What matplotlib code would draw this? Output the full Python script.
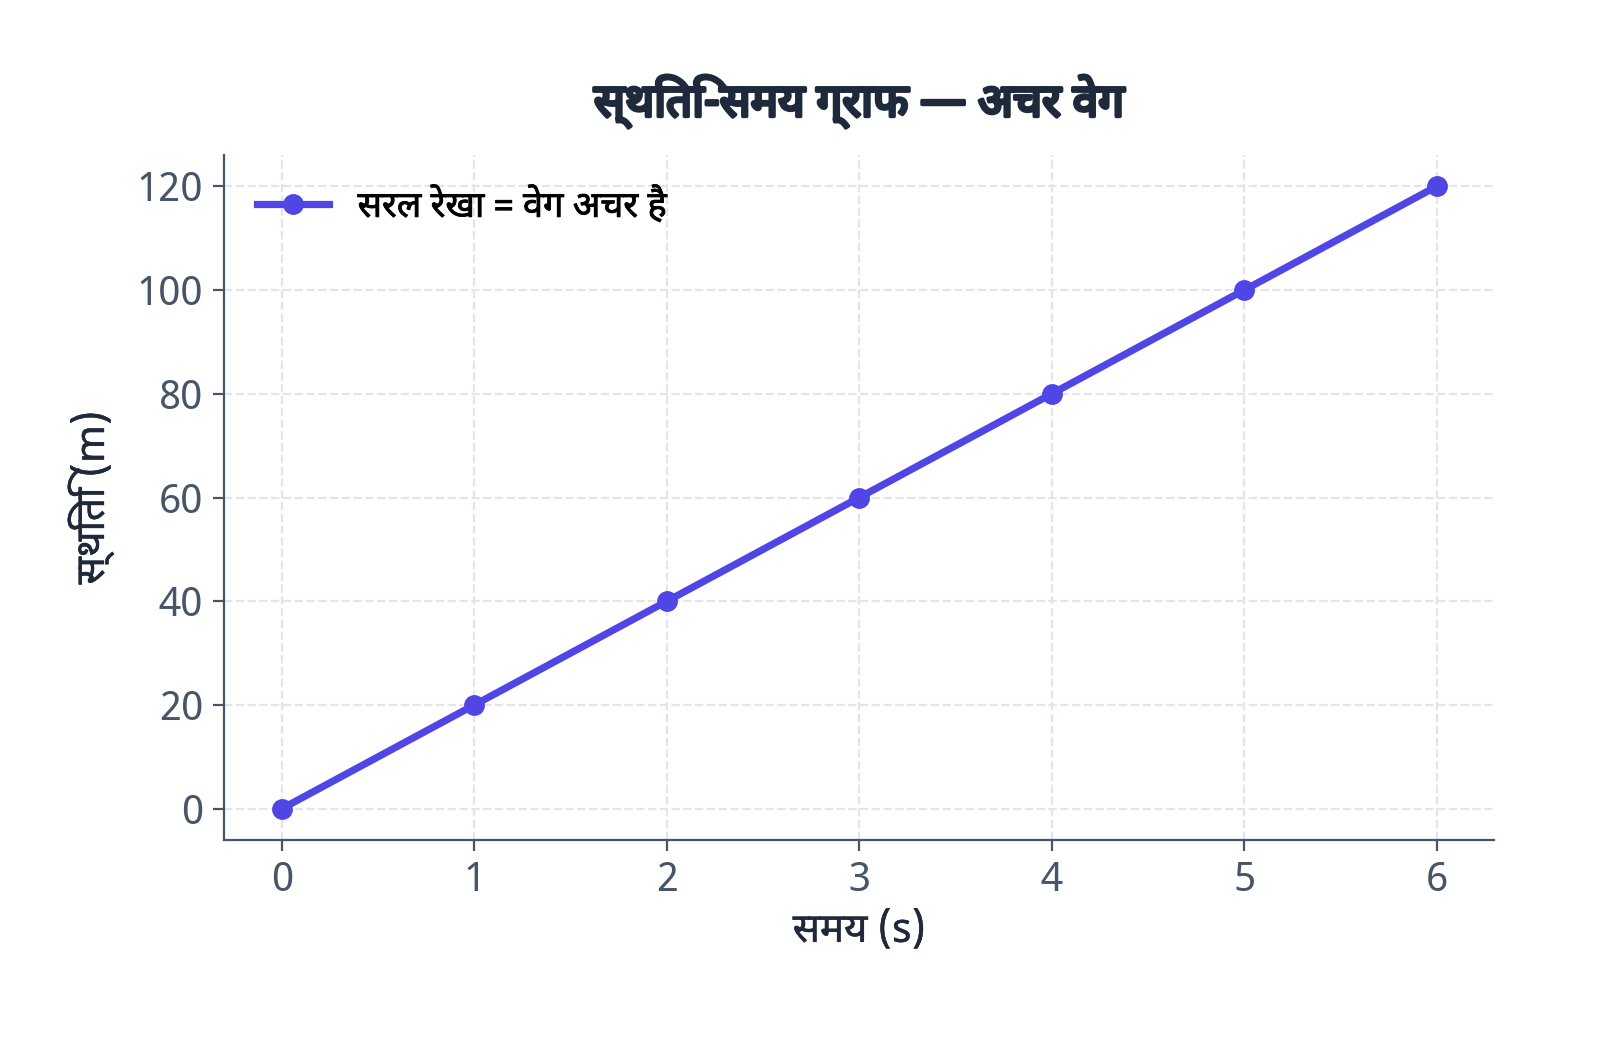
import matplotlib
matplotlib.use("Agg")
from matplotlib import pyplot as plt
from matplotlib import patheffects

# data
times = [0, 1, 2, 3, 4, 5, 6]
positions = [0, 20, 40, 60, 80, 100, 120]
y_ticks = [0, 20, 40, 60, 80, 100, 120]

title_text = "स्थिति-समय ग्राफ — अचर वेग"
x_label = "समय (s)"
y_label = "स्थिति (m)"
legend_label = "सरल रेखा = वेग अचर है"

plt.rcParams["font.family"] = ["Noto Sans Devanagari", "Noto Sans", "DejaVu Sans"]

fig = plt.figure(figsize=(8, 5.21), dpi=200)
ax = fig.add_axes([0.14, 0.194, 0.794, 0.657])

ax.plot(times, positions, color="#4f46e5", linewidth=2.6, marker="o",
        markersize=6.5, label=legend_label, zorder=3)

ax.set_xticks(times)
ax.set_yticks(y_ticks)
ax.grid(True, linestyle="--", color="#e4e4f0", linewidth=0.8)
ax.set_axisbelow(True)

for s in ["top", "right"]:
    ax.spines[s].set_visible(False)
for s in ["left", "bottom"]:
    ax.spines[s].set_color("#475569")
    ax.spines[s].set_linewidth(0.8)

ax.tick_params(colors="#475569", labelsize=14.5, length=4)
semi = [patheffects.withStroke(linewidth=0.2, foreground="#1e293b")]
ax.set_xlabel(x_label, fontsize=14.5, color="#1e293b", labelpad=4,
              path_effects=semi)
ax.set_ylabel(y_label, fontsize=14.5, color="#1e293b", labelpad=8,
              path_effects=semi)
ax.set_title(title_text, fontsize=16.5, fontweight="bold", color="#1e293b", pad=14,
             path_effects=[patheffects.withStroke(linewidth=1.3, foreground="#1e293b")])

leg = ax.legend(loc="upper left", frameon=False, fontsize=13, handlelength=2.0,
                handletextpad=0.8)
for t in leg.get_texts():
    t.set_path_effects([patheffects.withStroke(linewidth=0.3, foreground="black")])

fig.savefig("out.png", dpi=200)
